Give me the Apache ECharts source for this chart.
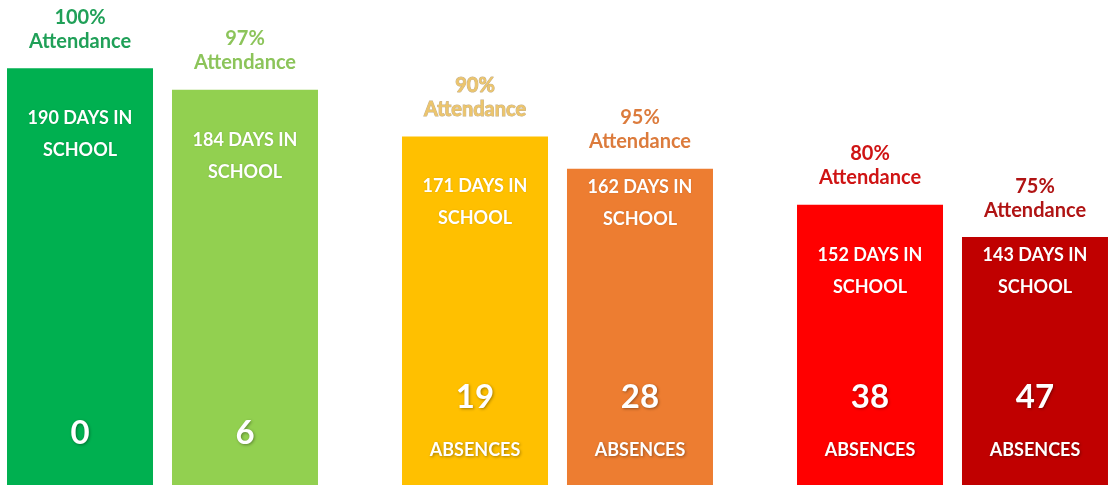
<!DOCTYPE html>
<html>
<head>
<meta charset="utf-8">
<script src="https://cdn.jsdelivr.net/npm/echarts@6/dist/echarts.min.js"></script>
<style>
  html, body { margin: 0; padding: 0; background: #fff; overflow: hidden; }
  /* the pairs are wider apart than the window allows, so the canvas bleeds past both edges */
  #chart { position: absolute; left: -35px; top: 0; width: 1185px; height: 485px; }
</style>
</head>
<body>
<div id="chart"></div>
<script>
// one entry per bar, left to right
const pairs = ['Pair 1', 'Pair 2', 'Pair 3'];
const daysInSchool = [190, 184, 171, 162, 152, 143];
const attendance = ['100%', '97%', '90%', '95%', '80%', '75%'];
const absences = [0, 6, 19, 28, 38, 47];
const absenceCaption = ['', '', 'ABSENCES', 'ABSENCES', 'ABSENCES', 'ABSENCES'];

// styling
const barColors = ['#00b050', '#92d050', '#ffc000', '#ed7d31', '#ff0000', '#c00000'];
const titleColors = ['#20a058', '#8cc45a', '#ecc56c', '#dc7b3c', '#cf1414', '#b01414'];
const daysGap = [34, 34, 34, 2, 34, 2];
const font = 'Lato, "Open Sans", sans-serif';
const shadow = {
    textShadowColor: 'rgba(0,0,0,0.35)',
    textShadowBlur: 3,
    textShadowOffsetX: 1,
    textShadowOffsetY: 1
};

function slotSeries(side) {
    const idx = pairs.map((p, k) => k * 2 + side);
    const stack = 'slot' + side;
    const common = { type: 'bar', stack, stackStrategy: 'all', barWidth: 146, barGap: '13%', silent: true };
    return [
        // the bar itself + absences at the bottom
        Object.assign({}, common, {
            data: idx.map(i => ({
                value: daysInSchool[i],
                itemStyle: { color: barColors[i] },
                label: {
                    formatter: absenceCaption[i]
                        ? `{num|${absences[i]}}\n{abs|${absenceCaption[i]}}`
                        : `{num|${absences[i]}}`,
                    distance: absenceCaption[i] ? 2 : 32
                }
            })),
            label: {
                show: true,
                position: 'insideBottom',
                rich: {
                    num: Object.assign({ fontFamily: font, fontWeight: 'bold', fontSize: 33, color: '#fff', lineHeight: 40 }, shadow),
                    abs: Object.assign({ fontFamily: font, fontWeight: 'bold', fontSize: 18, color: '#fff', lineHeight: 66 }, shadow)
                }
            }
        }),
        // attendance title above the bar
        Object.assign({}, common, {
            data: idx.map(i => ({
                value: 0,
                label: {
                    formatter: `${attendance[i]}\nAttendance`,
                    color: titleColors[i],
                    textBorderColor: i === 2 ? 'rgba(150,110,40,0.55)' : 'transparent',
                    textBorderWidth: i === 2 ? 1 : 0
                }
            })),
            label: {
                show: true,
                position: 'top',
                distance: 15,
                fontFamily: font,
                fontWeight: 'bold',
                fontSize: 20,
                lineHeight: 24
            }
        }),
        // days in school, just under the top of the bar
        Object.assign({}, common, {
            data: idx.map(i => ({
                value: 0,
                label: {
                    formatter: `${daysInSchool[i]} DAYS IN\nSCHOOL`,
                    distance: daysGap[i]
                }
            })),
            label: {
                show: true,
                position: 'bottom',
                fontFamily: font,
                fontWeight: 'bold',
                fontSize: 18,
                lineHeight: 32,
                color: '#fff',
                textShadowColor: 'rgba(0,0,0,0.15)',
                textShadowBlur: 2
            }
        })
    ];
}

const chart = echarts.init(document.getElementById('chart'));
chart.setOption({
    animation: false,
    backgroundColor: '#fff',
    grid: { left: 0, right: 0, top: 0, bottom: 0 },
    xAxis: { type: 'category', data: pairs, show: false },
    yAxis: { type: 'value', min: 74, max: 209, show: false },
    series: slotSeries(0).concat(slotSeries(1))
});
</script>
</body>
</html>
